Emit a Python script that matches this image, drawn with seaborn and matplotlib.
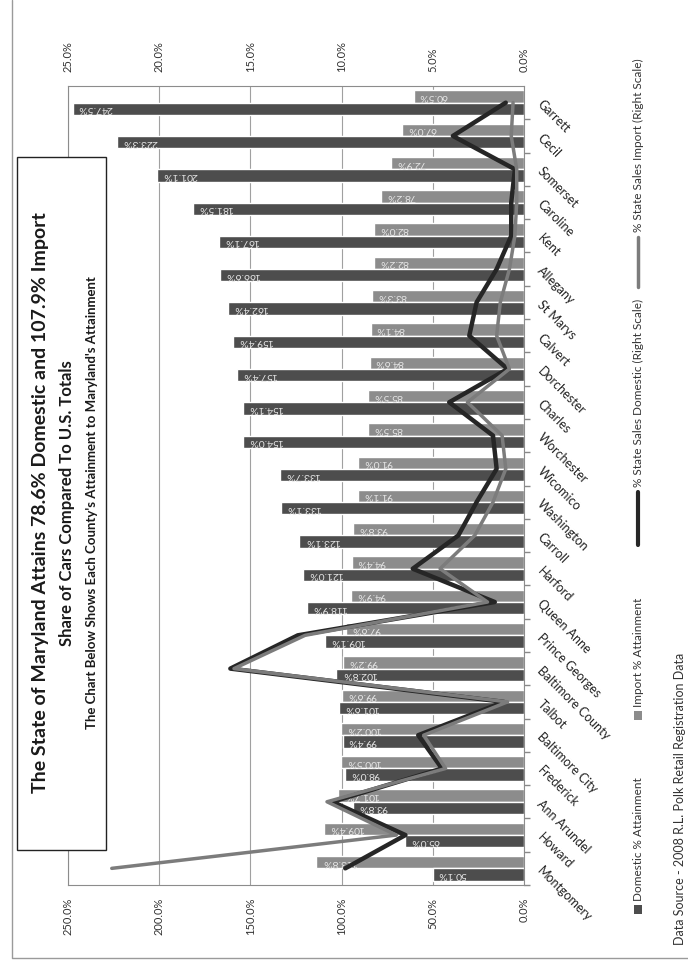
import numpy as np
import pandas as pd
import matplotlib
matplotlib.use("Agg")
import matplotlib.pyplot as plt
import seaborn as sns
from matplotlib.patches import Rectangle
from matplotlib.lines import Line2D

# Data (Montgomery -> Garrett)
counties = ["Montgomery", "Howard", "Ann Arundel", "Frederick", "Baltimore City", "Talbot",
            "Baltimore County", "Prince Georges", "Queen Anne", "Harford", "Carroll",
            "Washington", "Wicomico", "Worchester", "Charles", "Dorchester", "Calvert",
            "St Marys", "Allegany", "Kent", "Caroline", "Somerset", "Cecil", "Garrett"]
domestic_attain = [50.1, 65.0, 93.8, 98.0, 99.4, 101.6, 102.8, 109.1, 118.9, 121.0, 123.1,
                   133.1, 133.7, 154.0, 154.1, 157.4, 159.4, 162.4, 166.6, 167.1, 181.5,
                   201.1, 223.3, 247.5]
import_attain = [113.8, 109.4, 101.7, 100.5, 100.2, 99.6, 99.2, 97.6, 94.9, 94.4, 93.8,
                 91.1, 91.0, 85.5, 85.5, 84.6, 84.1, 83.3, 82.2, 82.0, 78.2, 72.9, 67.0, 60.5]
domestic_share = [9.8, 6.5, 10.5, 4.5, 5.8, 1.1, 16.1, 12.4, 1.6, 6.1, 3.6, 2.6, 1.5, 1.7,
                  4.1, 0.9, 3.0, 2.6, 1.5, 0.7, 0.7, 0.5, 3.9, 1.0]
import_share = [22.6, 7.0, 10.8, 4.3, 5.5, 0.9, 15.9, 12.0, 2.0, 4.6, 2.7, 1.7, 1.0, 1.2,
                3.1, 0.8, 1.5, 1.3, 0.8, 0.5, 0.4, 0.4, 0.7, 0.6]

left_ticks = [0, 50, 100, 150, 200, 250]
right_ticks = [0, 5, 10, 15, 20, 25]

dom_color = "#4d4d4d"
imp_color = "#8c8c8c"
dom_line = "#262626"
imp_line = "#7c7c7c"

sns.set_theme(style="white")
plt.rcParams["font.family"] = ["Lato", "DejaVu Sans"]

n = len(counties)
df = pd.DataFrame({
    "County": counties * 2,
    "Attainment": domestic_attain + import_attain,
    "Series": ["Domestic % Attainment"] * n + ["Import % Attainment"] * n,
})
order = counties[::-1]
ypos = [order.index(c) for c in counties]

W, H = 688, 963
fig = plt.figure(figsize=(W / 100, H / 100), dpi=100)
fig.patch.set_facecolor("white")
ax = fig.add_axes([68 / W, 1 - 885 / H, (524 - 68) / W, (885 - 86) / H])

sns.barplot(data=df, x="Attainment", y="County", hue="Series", order=order,
            hue_order=["Import % Attainment", "Domestic % Attainment"],
            palette=[imp_color, dom_color], orient="h", width=0.74, gap=0,
            saturation=1, legend=False, ax=ax)

# data labels inside the bar ends, upside down
for cont in ax.containers:
    for p in cont:
        v = p.get_width()
        ax.text(v - 3, p.get_y() + p.get_height() / 2, f"{v:.1f}%", rotation=180,
                ha="left", va="center", fontsize=7.5, color="#e6e6e6", zorder=4)

ax.set_xlim(250, 0)
ax.set_xticks(left_ticks)
ax.set_xticklabels([f"{t:.1f}%" for t in left_ticks], rotation=90, fontsize=8, color="#333333")
ax.grid(axis="x", color="#a0a0a0", linewidth=0.8)
ax.set_axisbelow(True)
ax.set_xlabel("")
ax.set_ylabel("")
ax.tick_params(axis="x", length=0, pad=9)

ax.yaxis.tick_right()
ax.set_yticks(np.arange(n) + 0.5, minor=True)
ax.tick_params(axis="y", which="major", length=0, pad=11, labelsize=9, labelcolor="#222222")
ax.tick_params(axis="y", which="minor", right=True, length=4, color="#888888", direction="out")
for sp in ax.spines.values():
    sp.set_color("#8c8c8c")
    sp.set_linewidth(0.8)

# secondary scale lines
ax2 = ax.twiny()
sns.lineplot(x=domestic_share, y=ypos, orient="y", sort=False, estimator=None,
             color=dom_line, linewidth=3.2, ax=ax2)
sns.lineplot(x=import_share, y=ypos, orient="y", sort=False, estimator=None,
             color=imp_line, linewidth=2.5, ax=ax2)
ax2.set_xlim(25, 0)
ax2.set_ylim(n - 0.5, -0.5)
ax2.set_xticks(right_ticks)
ax2.set_xticklabels([f"{t:.1f}%" for t in right_ticks], rotation=90, fontsize=8, color="#333333")
ax2.tick_params(axis="x", length=0, pad=10)
ax2.set_xlabel("")
ax2.set_ylabel("")
for sp in ax2.spines.values():
    sp.set_visible(False)

for lab in ax.yaxis.get_ticklabels(which="major"):
    lab.set_rotation(-45)
    lab.set_rotation_mode("anchor")
    lab.set_ha("left")
    lab.set_va("center")

# title box
fig.add_artist(Rectangle((17 / W, 1 - 850 / H), (106 - 17) / W, (850 - 157) / H,
                         transform=fig.transFigure, facecolor="white", edgecolor="#222222",
                         linewidth=1.0, zorder=5))
yc = 1 - 503 / H
fig.text(41 / W, yc, "The State of Maryland Attains 78.6% Domestic and 107.9% Import",
         rotation=90, ha="center", va="center", fontsize=14, fontweight="bold",
         color="#1a1a1a", zorder=6)
fig.text(67 / W, yc, "Share of Cars Compared To U.S. Totals", rotation=90, ha="center",
         va="center", fontsize=12, fontweight="bold", color="#1a1a1a", zorder=6)
fig.text(92 / W, yc, "The Chart Below Shows Each County's Attainment to Maryland's Attainment",
         rotation=90, ha="center", va="center", fontsize=9.5, fontweight="bold",
         color="#1a1a1a", zorder=6)

# legend, drawn by hand along the right edge
lx = 638 / W
fig.add_artist(Rectangle((634 / W, 1 - 914 / H), 8 / W, 9 / H, transform=fig.transFigure,
                         facecolor=dom_color, edgecolor="none"))
fig.text(lx, 1 - 901 / H, "Domestic % Attainment", rotation=90, ha="center", va="bottom",
         fontsize=8.5, color="#333333")
fig.add_artist(Rectangle((634 / W, 1 - 720 / H), 8 / W, 9 / H, transform=fig.transFigure,
                         facecolor=imp_color, edgecolor="none"))
fig.text(lx, 1 - 707 / H, "Import % Attainment", rotation=90, ha="center", va="bottom",
         fontsize=8.5, color="#333333")
fig.add_artist(Line2D([lx, lx], [1 - 545 / H, 1 - 492 / H], transform=fig.transFigure,
                      color=dom_line, linewidth=3))
fig.text(lx, 1 - 487 / H, "% State Sales Domestic (Right Scale)", rotation=90, ha="center",
         va="bottom", fontsize=8.5, color="#333333")
fig.add_artist(Line2D([lx, lx], [1 - 287 / H, 1 - 237 / H], transform=fig.transFigure,
                      color=imp_line, linewidth=2.5))
fig.text(lx, 1 - 232 / H, "% State Sales Import (Right Scale)", rotation=90, ha="center",
         va="bottom", fontsize=8.5, color="#333333")

fig.text(680 / W, 1 - 945 / H, "Data Source - 2008 R.L. Polk Retail Registration Data",
         rotation=90, ha="center", va="bottom", fontsize=9, color="#333333")

# outer chart border (left and bottom edges visible)
fig.add_artist(Line2D([12 / W, 12 / W, 1.0], [1.0, 1 - 958 / H, 1 - 958 / H],
                      transform=fig.transFigure, color="#9a9a9a", linewidth=1.0))

fig.savefig("out.png", dpi=100)
